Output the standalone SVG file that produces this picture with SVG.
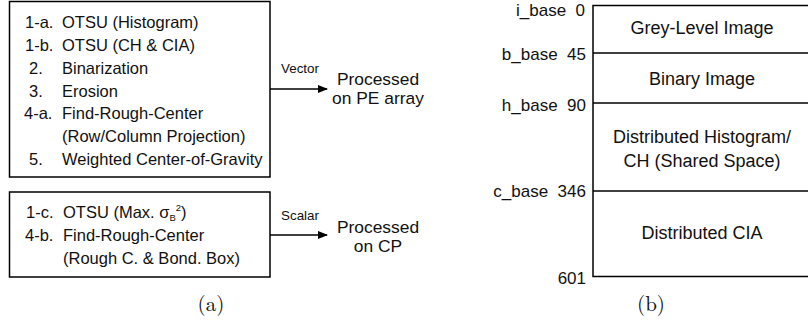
<svg xmlns="http://www.w3.org/2000/svg" width="808" height="320" viewBox="0 0 808 320">
<defs>
<marker id="arr" markerWidth="10" markerHeight="8" refX="9" refY="4" orient="auto" markerUnits="userSpaceOnUse">
<path d="M0,0 L10,4 L0,8 Z" fill="#000"/>
</marker>
<style>
text{font-family:"Liberation Sans",Arial,sans-serif;fill:#111;}
.t{font-size:16.5px;}
.s{font-size:13.4px;}
.m{font-size:17.4px;text-anchor:middle;}
.b{font-size:18px;text-anchor:middle;}
.r{font-size:17px;text-anchor:end;}
.cap{font-family:"Latin Modern Roman","DejaVu Serif","Liberation Serif",serif;font-size:21px;text-anchor:middle;}
.box{fill:#fff;stroke:#000;stroke-width:1.5;}
.ln{stroke:#000;stroke-width:1.5;fill:none;}
</style>
</defs>
<g id="vector-box">
<rect class="box" x="9.5" y="1.5" width="260.5" height="175.5"/>
<text class="t" x="25" y="28">1-a.</text><text class="t" x="62" y="28">OTSU (Histogram)</text>
<text class="t" x="25" y="51">1-b.</text><text class="t" x="62" y="51">OTSU (CH &amp; CIA)</text>
<text class="t" x="29" y="74">2.</text><text class="t" x="62" y="74">Binarization</text>
<text class="t" x="29" y="97">3.</text><text class="t" x="62" y="97">Erosion</text>
<text class="t" x="24" y="119">4-a.</text><text class="t" x="62" y="119">Find-Rough-Center</text>
<text class="t" x="62" y="142">(Row/Column Projection)</text>
<text class="t" x="29" y="165">5.</text><text class="t" x="62" y="165">Weighted Center-of-Gravity</text>
</g>
<g id="scalar-box">
<rect class="box" x="9.5" y="192" width="260.5" height="85"/>
<text class="t" x="26" y="218">1-c.</text><text class="t" x="63" y="218">OTSU (Max. σ<tspan font-size="9.5" dy="3">B</tspan><tspan font-size="9.5" dy="-10">2</tspan><tspan dy="7">)</tspan></text>
<text class="t" x="25" y="241">4-b.</text><text class="t" x="63" y="241">Find-Rough-Center</text>
<text class="t" x="63" y="264">(Rough C. &amp; Bond. Box)</text>
</g>
<g id="connectors">
<line class="ln" x1="270" y1="89" x2="327" y2="89" marker-end="url(#arr)"/>
<line class="ln" x1="270" y1="235" x2="327" y2="235" marker-end="url(#arr)"/>
</g>
<g id="labels">
<text class="s" x="281" y="73">Vector</text>
<text class="m" x="378" y="85">Processed</text>
<text class="m" x="378" y="104">on PE array</text>
<text class="s" x="281" y="220">Scalar</text>
<text class="m" x="378" y="233">Processed</text>
<text class="m" x="378" y="252">on CP</text>
<text class="cap" x="211" y="311">(a)</text>
<text class="cap" x="651" y="311">(b)</text>
</g>
<g id="memory-map">
<path class="ln" d="M810,5.5 H593 V276.5 H810"/>
<line class="ln" x1="593" y1="53" x2="810" y2="53"/>
<line class="ln" x1="593" y1="103" x2="810" y2="103"/>
<line class="ln" x1="593" y1="191" x2="810" y2="191"/>
<text class="r" x="585" y="16" xml:space="preserve">i_base  0</text>
<text class="r" x="586" y="60" xml:space="preserve">b_base  45</text>
<text class="r" x="586" y="111" xml:space="preserve">h_base  90</text>
<text class="r" x="586" y="197" xml:space="preserve">c_base  346</text>
<text class="r" x="586" y="284">601</text>
<text class="b" x="702" y="34">Grey-Level Image</text>
<text class="b" x="702" y="85">Binary Image</text>
<text class="b" x="702" y="143">Distributed Histogram/</text>
<text class="b" x="702" y="167">CH (Shared Space)</text>
<text class="b" x="702" y="239">Distributed CIA</text>
</g>
</svg>
